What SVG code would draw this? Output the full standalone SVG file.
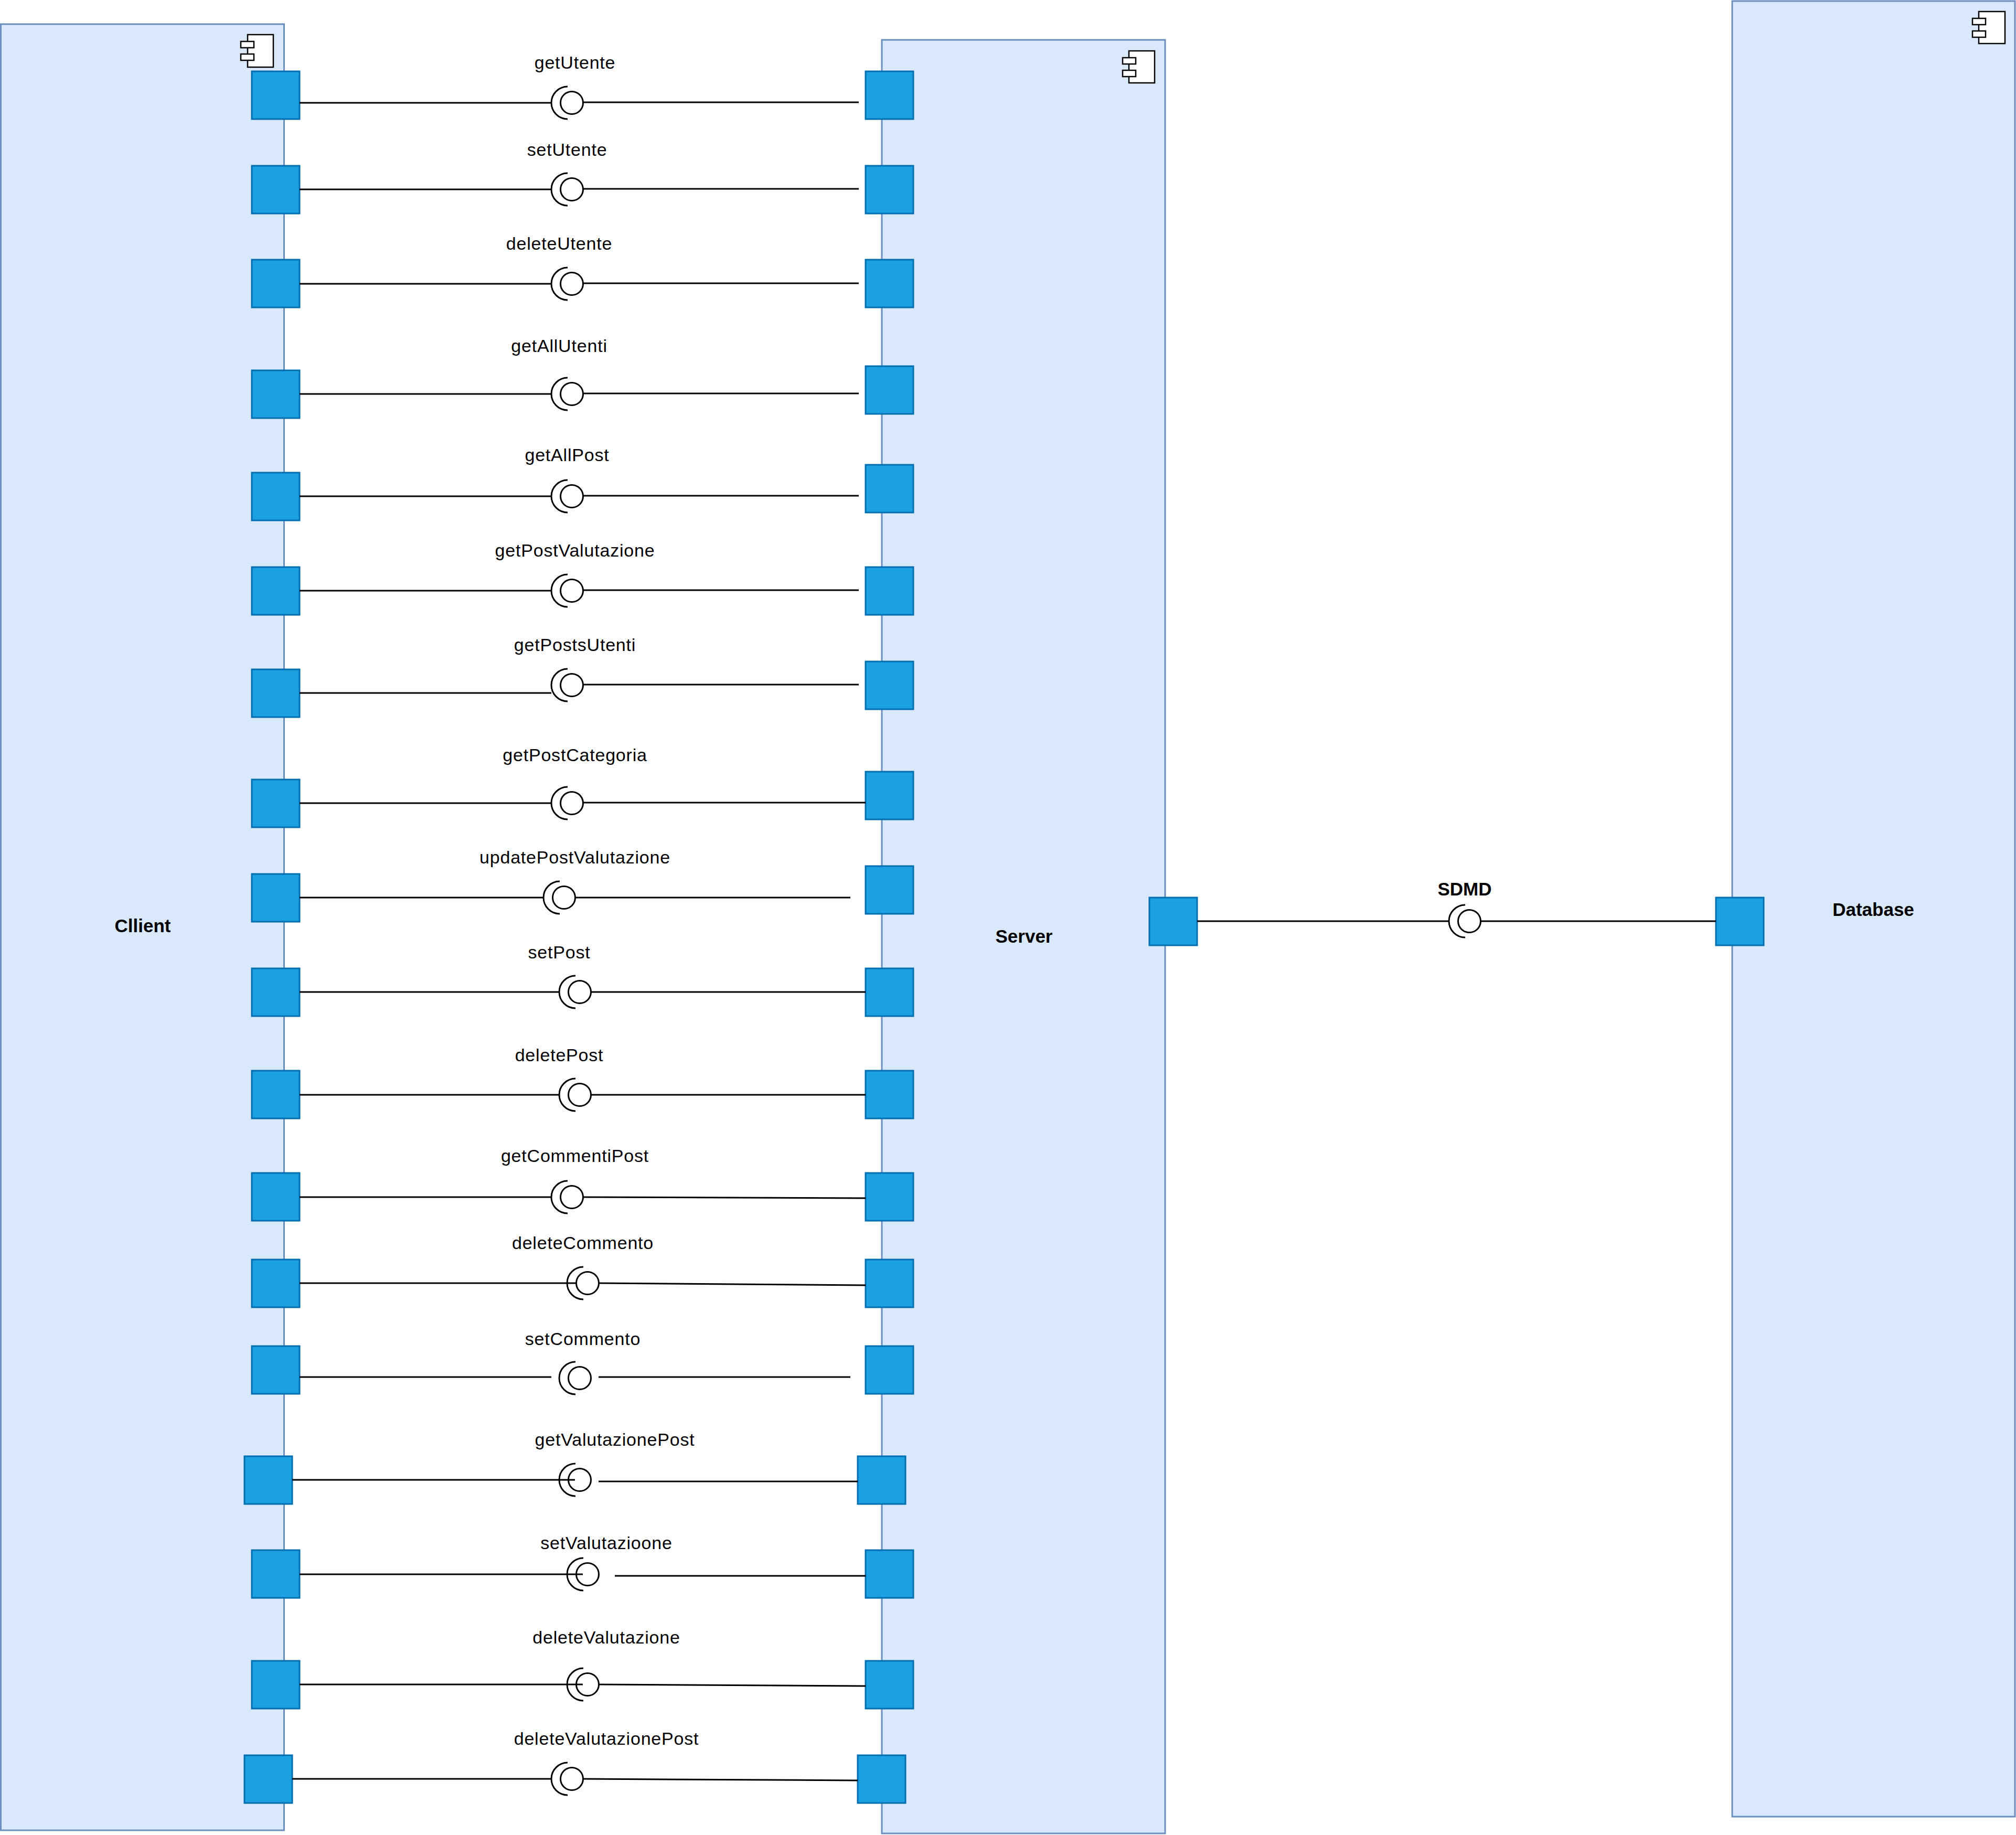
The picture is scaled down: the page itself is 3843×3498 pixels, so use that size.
<svg xmlns="http://www.w3.org/2000/svg" width="3843" height="3498" viewBox="0 0 3843 3498">
<style>
.box{fill:#dae8fc;stroke:#6c8ebf;stroke-width:3}
.port{fill:#1ba1e2;stroke:#006eaf;stroke-width:3}
.icon{fill:#fff;stroke:#000;stroke-width:2.5}
.wire{stroke:#000;stroke-width:3;fill:none}
.ifc{stroke:#000;stroke-width:3;fill:#fff}
.sock{stroke:#000;stroke-width:3;fill:none}
.lbl{font-family:"Liberation Sans",Arial,Helvetica,sans-serif;font-size:34px;letter-spacing:0.8px;text-anchor:middle;fill:#000}
.bold{font-family:"Liberation Sans",Arial,Helvetica,sans-serif;font-size:35px;font-weight:bold;text-anchor:middle;fill:#000}
</style>
<rect width="3843" height="3498" fill="#fff"/>

<g id="node-client">
<rect class="box" x="1.5" y="46" width="540" height="3443"/>
<rect class="icon" x="472" y="66" width="49" height="62"/>
<rect class="icon" x="459" y="79" width="25" height="12"/>
<rect class="icon" x="459" y="103" width="25" height="12"/>
<text class="bold" x="272" y="1777">Cllient</text>
</g>
<g id="node-server">
<rect class="box" x="1681" y="76" width="540" height="3419"/>
<rect class="icon" x="2152" y="97" width="49" height="61"/>
<rect class="icon" x="2140" y="110" width="25" height="12"/>
<rect class="icon" x="2140" y="134" width="25" height="12"/>
<text class="bold" x="1952" y="1797">Server</text>
</g>
<g id="node-database">
<rect class="box" x="3302" y="2" width="539" height="3461"/>
<rect class="icon" x="3772" y="22" width="50" height="61"/>
<rect class="icon" x="3760" y="35" width="25" height="12"/>
<rect class="icon" x="3760" y="59" width="25" height="12"/>
<text class="bold" x="3571" y="1746">Database</text>
</g>

<g id="ports">
<rect id="cp1" class="port" x="480" y="136" width="91" height="91"/>
<rect id="sp1" class="port" x="1650" y="136" width="91" height="91"/>
<rect id="cp2" class="port" x="480" y="316" width="91" height="91"/>
<rect id="sp2" class="port" x="1650" y="316" width="91" height="91"/>
<rect id="cp3" class="port" x="480" y="495" width="91" height="91"/>
<rect id="sp3" class="port" x="1650" y="495" width="91" height="91"/>
<rect id="cp4" class="port" x="480" y="706" width="91" height="91"/>
<rect id="sp4" class="port" x="1650" y="698" width="91" height="91"/>
<rect id="cp5" class="port" x="480" y="901" width="91" height="91"/>
<rect id="sp5" class="port" x="1650" y="886" width="91" height="91"/>
<rect id="cp6" class="port" x="480" y="1081" width="91" height="91"/>
<rect id="sp6" class="port" x="1650" y="1081" width="91" height="91"/>
<rect id="cp7" class="port" x="480" y="1276" width="91" height="91"/>
<rect id="sp7" class="port" x="1650" y="1261" width="91" height="91"/>
<rect id="cp8" class="port" x="480" y="1486" width="91" height="91"/>
<rect id="sp8" class="port" x="1650" y="1471" width="91" height="91"/>
<rect id="cp9" class="port" x="480" y="1666" width="91" height="91"/>
<rect id="sp9" class="port" x="1650" y="1651" width="91" height="91"/>
<rect id="cp10" class="port" x="480" y="1846" width="91" height="91"/>
<rect id="sp10" class="port" x="1650" y="1846" width="91" height="91"/>
<rect id="cp11" class="port" x="480" y="2041" width="91" height="91"/>
<rect id="sp11" class="port" x="1650" y="2041" width="91" height="91"/>
<rect id="cp12" class="port" x="480" y="2236" width="91" height="91"/>
<rect id="sp12" class="port" x="1650" y="2236" width="91" height="91"/>
<rect id="cp13" class="port" x="480" y="2401" width="91" height="91"/>
<rect id="sp13" class="port" x="1650" y="2401" width="91" height="91"/>
<rect id="cp14" class="port" x="480" y="2566" width="91" height="91"/>
<rect id="sp14" class="port" x="1650" y="2566" width="91" height="91"/>
<rect id="cp15" class="port" x="466" y="2776" width="91" height="91"/>
<rect id="sp15" class="port" x="1635" y="2776" width="91" height="91"/>
<rect id="cp16" class="port" x="480" y="2955" width="91" height="91"/>
<rect id="sp16" class="port" x="1650" y="2955" width="91" height="91"/>
<rect id="cp17" class="port" x="480" y="3166" width="91" height="91"/>
<rect id="sp17" class="port" x="1650" y="3166" width="91" height="91"/>
<rect id="cp18" class="port" x="466" y="3346" width="91" height="91"/>
<rect id="sp18" class="port" x="1635" y="3346" width="91" height="91"/>
<rect id="sdp" class="port" x="2191" y="1711" width="91" height="91"/>
<rect id="dbp" class="port" x="3271" y="1711" width="91" height="91"/>
</g>

<g id="interfaces">
<g id="if1"><path class="sock" d="M1082,165 A31,31 0 0 0 1082,227"/><circle class="ifc" cx="1090" cy="196" r="21.5"/></g>
<g id="if2"><path class="sock" d="M1082,330 A31,31 0 0 0 1082,392"/><circle class="ifc" cx="1090" cy="361" r="21.5"/></g>
<g id="if3"><path class="sock" d="M1082,510 A31,31 0 0 0 1082,572"/><circle class="ifc" cx="1090" cy="541" r="21.5"/></g>
<g id="if4"><path class="sock" d="M1082,720 A31,31 0 0 0 1082,782"/><circle class="ifc" cx="1090" cy="751" r="21.5"/></g>
<g id="if5"><path class="sock" d="M1082,915 A31,31 0 0 0 1082,977"/><circle class="ifc" cx="1090" cy="946" r="21.5"/></g>
<g id="if6"><path class="sock" d="M1082,1095 A31,31 0 0 0 1082,1157"/><circle class="ifc" cx="1090" cy="1126" r="21.5"/></g>
<g id="if7"><path class="sock" d="M1082,1275 A31,31 0 0 0 1082,1337"/><circle class="ifc" cx="1090" cy="1306" r="21.5"/></g>
<g id="if8"><path class="sock" d="M1082,1500 A31,31 0 0 0 1082,1562"/><circle class="ifc" cx="1090" cy="1531" r="21.5"/></g>
<g id="if9"><path class="sock" d="M1067,1680 A31,31 0 0 0 1067,1742"/><circle class="ifc" cx="1075" cy="1711" r="21.5"/></g>
<g id="if10"><path class="sock" d="M1097,1860 A31,31 0 0 0 1097,1922"/><circle class="ifc" cx="1105" cy="1891" r="21.5"/></g>
<g id="if11"><path class="sock" d="M1097,2056 A31,31 0 0 0 1097,2118"/><circle class="ifc" cx="1105" cy="2087" r="21.5"/></g>
<g id="if12"><path class="sock" d="M1082,2251 A31,31 0 0 0 1082,2313"/><circle class="ifc" cx="1090" cy="2282" r="21.5"/></g>
<g id="if13"><path class="sock" d="M1112,2415 A31,31 0 0 0 1112,2477"/><circle class="ifc" cx="1120" cy="2446" r="21.5"/></g>
<g id="if14"><path class="sock" d="M1097,2596 A31,31 0 0 0 1097,2658"/><circle class="ifc" cx="1105" cy="2627" r="21.5"/></g>
<g id="if15"><path class="sock" d="M1097,2790 A31,31 0 0 0 1097,2852"/><circle class="ifc" cx="1105" cy="2821" r="21.5"/></g>
<g id="if16"><path class="sock" d="M1112,2970 A31,31 0 0 0 1112,3032"/><circle class="ifc" cx="1120" cy="3001" r="21.5"/></g>
<g id="if17"><path class="sock" d="M1112,3180 A31,31 0 0 0 1112,3242"/><circle class="ifc" cx="1120" cy="3211" r="21.5"/></g>
<g id="if18"><path class="sock" d="M1082,3360 A31,31 0 0 0 1082,3422"/><circle class="ifc" cx="1090" cy="3391" r="21.5"/></g>
<g id="ifSDMD"><path class="sock" d="M2793,1725 A31,31 0 0 0 2793,1787"/><circle class="ifc" cx="2801" cy="1756" r="21.5"/></g>
</g>

<g id="connectors">
<path class="wire" d="M571,196 H1051 M1112,195 H1637"/>
<path class="wire" d="M571,361 H1051 M1112,360 H1637"/>
<path class="wire" d="M571,541 H1051 M1112,540 H1637"/>
<path class="wire" d="M571,751 H1051 M1112,750 H1637"/>
<path class="wire" d="M571,946 H1051 M1112,945 H1637"/>
<path class="wire" d="M571,1126 H1051 M1112,1125 H1637"/>
<path class="wire" d="M571,1321 H1051 M1112,1305 H1637"/>
<path class="wire" d="M571,1531 H1051 M1112,1530 H1650"/>
<path class="wire" d="M571,1711 H1036 M1097,1711 H1621"/>
<path class="wire" d="M571,1891 H1066 M1127,1891 H1650"/>
<path class="wire" d="M571,2087 H1066 M1127,2087 H1650"/>
<path class="wire" d="M571,2282 H1051 M1112,2282 L1650,2284"/>
<path class="wire" d="M571,2446 H1098 M1142,2446 L1650,2450"/>
<path class="wire" d="M571,2625 H1051 M1141,2625 H1621"/>
<path class="wire" d="M557,2821 H1096 M1141,2824 H1635"/>
<path class="wire" d="M571,3001 H1111 M1172,3004 H1650"/>
<path class="wire" d="M571,3211 H1111 M1142,3211 L1650,3214"/>
<path class="wire" d="M557,3391 H1051 M1112,3391 L1635,3394"/>
<path class="wire" d="M2282,1756 H2762 M2823,1756 H3271"/>
</g>

<g id="labels">
<text class="lbl" x="1096" y="131">getUtente</text>
<text class="lbl" x="1081" y="297">setUtente</text>
<text class="lbl" x="1066" y="476">deleteUtente</text>
<text class="lbl" x="1066" y="671">getAllUtenti</text>
<text class="lbl" x="1081" y="879">getAllPost</text>
<text class="lbl" x="1096" y="1061">getPostValutazione</text>
<text class="lbl" x="1096" y="1241">getPostsUtenti</text>
<text class="lbl" x="1096" y="1451">getPostCategoria</text>
<text class="lbl" x="1096" y="1646">updatePostValutazione</text>
<text class="lbl" x="1066" y="1827">setPost</text>
<text class="lbl" x="1066" y="2023">deletePost</text>
<text class="lbl" x="1096" y="2215">getCommentiPost</text>
<text class="lbl" x="1111" y="2381">deleteCommento</text>
<text class="lbl" x="1111" y="2564">setCommento</text>
<text class="lbl" x="1172" y="2756">getValutazionePost</text>
<text class="lbl" x="1156" y="2953">setValutazioone</text>
<text class="lbl" x="1156" y="3133">deleteValutazione</text>
<text class="lbl" x="1156" y="3326">deleteValutazionePost</text>
<text class="bold" x="2792" y="1707">SDMD</text>
</g>
</svg>
